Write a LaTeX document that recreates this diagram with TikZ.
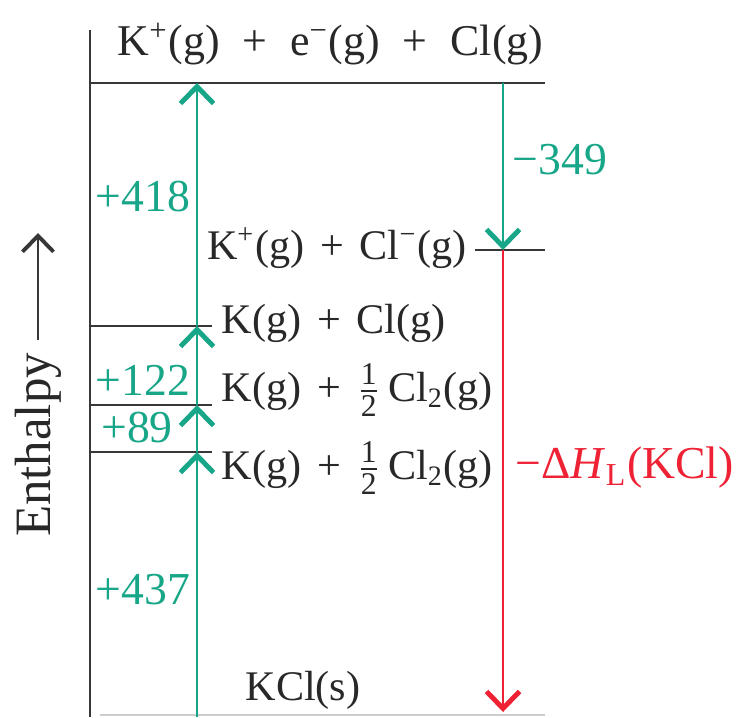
\documentclass[tikz,border=0pt]{standalone}
\usepackage{amsmath}
\usepackage{fontspec}
\setmainfont{Liberation Serif}
\usepackage{tikz}
\usetikzlibrary{arrows.meta, positioning}

\definecolor{bornteal}{RGB}{24,166,136}
\definecolor{bornred}{RGB}{238,34,52}
\definecolor{levelgray}{RGB}{55,55,55}
\definecolor{textgray}{RGB}{40,40,40}

\newcommand{\fracnum}[1]{\mbox{\fontsize{9}{10}\selectfont #1}}
\newcommand{\half}{$\frac{\fracnum{1}}{\fracnum{2}}$}
\newcommand{\pl}{\hspace{4.5pt}+\hspace{4.5pt}}
\newcommand{\plwide}{\hspace{6.5pt}+\hspace{6.5pt}}

\begin{document}
\begin{tikzpicture}[
    lbl/.style={font=\fontsize{12}{14}\selectfont, text=textgray, inner sep=0pt},
    val/.style={font=\fontsize{13}{15}\selectfont, text=bornteal, inner sep=0pt},
    level/.style={draw=levelgray, line width=0.7pt},
    tip/.style={-{Straight Barb[length=1.7mm, width=3.3mm, line width=1.4pt]}},
    upstep/.style={tip, draw=bornteal, line width=0.55pt},
    lattice/.style={tip, draw=bornred, line width=0.55pt}
]
\useasboundingbox (0,0) rectangle (7.46,-7.17);

% Level coordinates
\coordinate (topL) at (0.90,-0.83);   \coordinate (topR) at (5.45,-0.83);
\coordinate (ionL) at (4.75,-2.50);   \coordinate (ionR) at (5.45,-2.50);
\coordinate (atomL) at (0.90,-3.26);  \coordinate (atomR) at (2.12,-3.26);
\coordinate (halfL) at (0.90,-4.05);  \coordinate (halfR) at (2.12,-4.05);
\coordinate (solidL) at (0.90,-4.52); \coordinate (solidR) at (2.12,-4.52);
\coordinate (baseL) at (1.00,-7.15);  \coordinate (baseR) at (5.45,-7.15);

% Cycle arrow ends
\coordinate (t0) at (1.97,-7.17); \coordinate (t1) at (1.97,-4.52);
\coordinate (t2) at (1.97,-4.05); \coordinate (t3) at (1.97,-3.26);
\coordinate (t4) at (1.97,-0.83);
\coordinate (d0) at (5.03,-0.83); \coordinate (d1) at (5.03,-2.50);
\coordinate (d2) at (5.03,-7.12);

% Axis
\coordinate (axTop) at (0.90,-0.30); \coordinate (axBot) at (0.90,-7.17);
\draw[level] (axTop) -- (axBot);

% Levels
\draw[level] (topL) -- (topR);
\draw[level] (ionL) -- (ionR);
\draw[level] (atomL) -- (atomR);
\draw[level] (halfL) -- (halfR);
\draw[level] (solidL) -- (solidR);
\draw[draw=levelgray!25, line width=0.6pt] (baseL) -- (baseR);

% Species
\node[lbl, font=\fontsize{12.5}{15}\selectfont, anchor=base west] (gas) at (1.17,-0.56) {K\textsuperscript{+}(g)\plwide e\textsuperscript{−}(g)\plwide Cl(g)};
\node[lbl, anchor=east] (ions) at (4.67,-2.48) {K\textsuperscript{+}(g)\pl Cl\textsuperscript{−}(g)};
\node[lbl, anchor=west] (atoms) at (2.21,-3.23) {K(g)\pl Cl(g)};
\node[lbl, anchor=west] (half) at (2.21,-3.90) {K(g)\pl\half\,Cl\textsubscript{2}(g)};
\node[lbl, anchor=west] (solid) at (2.21,-4.68) {K(g)\pl\half\,Cl\textsubscript{2}(g)};
\node[lbl] (salt) at (3.03,-6.90) {KCl(s)};

% Steps
\draw[upstep] (t0) -- (t1);
\draw[upstep] (t1) -- (t2);
\draw[upstep] (t2) -- (t3);
\draw[upstep] (t3) -- (t4);
\draw[upstep] (d0) -- (d1);
\draw[lattice] (d1) -- (d2);

% Values
\node[val] (e418) at (1.43,-1.97) {+418};
\node[val] (e122) at (1.43,-3.80) {+122};
\node[val] (e89) at (1.37,-4.28) {+89};
\node[val] (e437) at (1.43,-5.90) {+437};
\node[val, anchor=west] (e349) at (5.12,-1.60) {−349};
\node[val, text=bornred, anchor=west] (eLat) at (5.15,-4.68) {−Δ\textit{H}\textsubscript{L}(KCl)};

% Enthalpy axis label
\node[lbl, font=\fontsize{14.5}{17}\selectfont, rotate=90] (enth) at (0.38,-4.45) {Enthalpy};
\coordinate (enthTip) at (0.38,-2.33);
\draw[-{Straight Barb[length=1.6mm, width=3.1mm, line width=1.1pt]}, draw=levelgray, line width=0.55pt] ([yshift=0.12cm]enth.east) -- (enthTip);

\end{tikzpicture}
\end{document}
